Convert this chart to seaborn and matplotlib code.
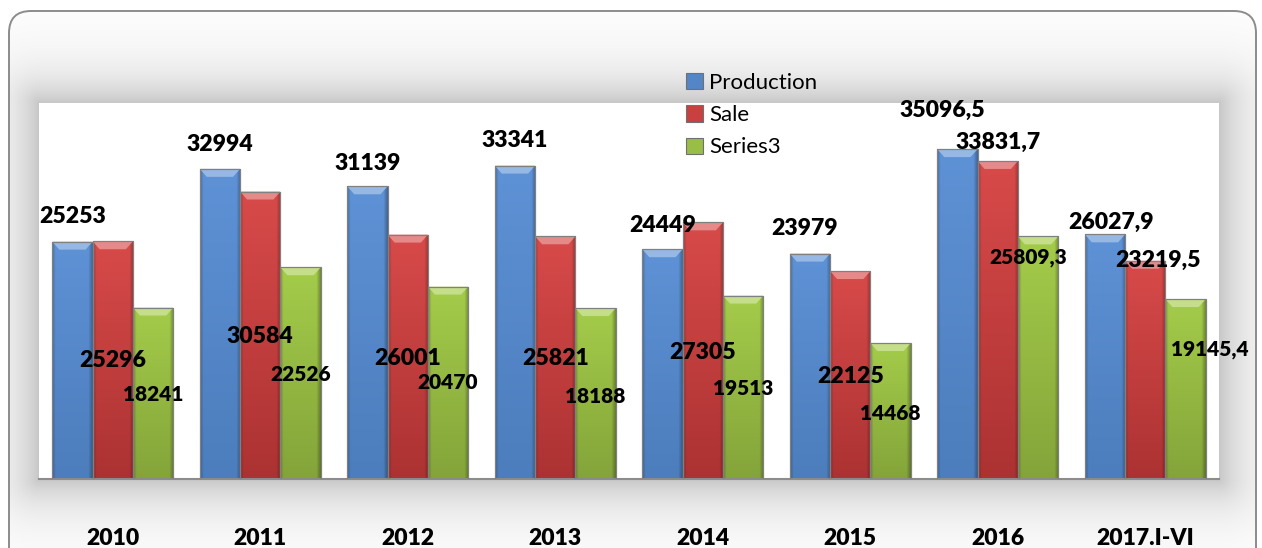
import numpy as np
import pandas as pd
import seaborn as sns
import matplotlib.pyplot as plt
from matplotlib.patches import FancyBboxPatch, Polygon, Rectangle
from matplotlib.colors import to_rgb

# data
years = ["2010", "2011", "2012", "2013", "2014", "2015", "2016", "2017.I-VI"]
production = [25253, 32994, 31139, 33341, 24449, 23979, 35096.5, 26027.9]
sale = [25296, 30584, 26001, 25821, 27305, 22125, 33831.7, 23219.5]
series3 = [18241, 22526, 20470, 18188, 19513, 14468, 25809.3, 19145.4]
series_names = ["Production", "Sale", "Series3"]

# label offsets (pixels from bar top centre), placed by hand in the original
prod_off = [(0, 25), (0, 24), (0, 23), (0, 25), (0, 24), (-5, 25), (-15, 39), (6, 12)]
sale_off = [(0, -119), (0, -145), (0, -124), (0, -122), (0, -130), (0, -105), (0, 19), (13, 0)]
s3_off = [(0, -87), (0, -107), (0, -96), (0, -88), (0, -93), (0, -70), (-10, -21), (24, -50)]

base_colors = ["#5485C6", "#C84040", "#98BE45"]
grad_colors = [("#5E92D6", "#4C7DBC"), ("#D84A4A", "#AC3232"), ("#A4CC4A", "#84A43A")]

plt.rcParams["font.family"] = ["Lato", "DejaVu Sans"]

W, H = 1262, 548
fig = plt.figure(figsize=(W / 100, H / 100), dpi=100)

# --- chart area background: soft shadow round the plot area, rounded frame
px0, px1, py0, py1 = 39, 1219, 103, 479
bg = fig.add_axes([0, 0, 1, 1])
bg.set_xlim(0, W)
bg.set_ylim(H, 0)
bg.axis("off")
yy, xx = np.mgrid[0:H, 0:W] + 0.5
ddx = np.maximum(np.maximum(px0 - xx, xx - px1), 0)
ddy = np.maximum(np.maximum(py0 - yy, yy - py1), 0)
dist = np.hypot(ddx, ddy)
shade = 1 - 0.22 * np.exp(-dist / 30)
shade[dist == 0] = 1
img = np.dstack([shade] * 3)
bg_im = bg.imshow(img, extent=[0, W, H, 0], aspect="auto", interpolation="bilinear")
frame = FancyBboxPatch((9, 11), 1247, 570, boxstyle="round,pad=0,rounding_size=22",
                       fc="none", ec="#8c8c8c", lw=1.4)
bg.add_patch(frame)
bg_im.set_clip_path(frame)

# --- bars
ax = fig.add_axes([px0 / W, 1 - py1 / H, (px1 - px0) / W, (py1 - py0) / H])
ax.set_facecolor("none")

df = pd.DataFrame({
    "year": years * 3,
    "series": [s for s in series_names for _ in years],
    "value": production + sale + series3,
})
sns.barplot(data=df, x="year", y="value", hue="series", hue_order=series_names,
            palette=base_colors, width=0.82, saturation=1, edgecolor="#808080",
            linewidth=0.9, legend=False, ax=ax)

ax.set_xlim(-0.5, 7.5)
ax.set_ylim(0, 40000)
dw = 7 / 147.5
dh = 8 * 40000 / 376

nx, ny = 40, 100
xs = np.linspace(0, 1, nx)
edge = 1 - (np.clip(1 - xs / 0.08, 0, 1) * 0.22 + np.clip(1 - (1 - xs) / 0.1, 0, 1) * 0.3)
t = np.linspace(1, 0, ny)

for k, cont in enumerate(ax.containers):
    top_c = np.array(to_rgb(grad_colors[k][0]))
    bot_c = np.array(to_rgb(grad_colors[k][1]))
    col = bot_c[None, :] + (top_c - bot_c)[None, :] * t[:, None]
    bar_img = np.clip(col[:, None, :] * edge[None, :, None], 0, 1)
    cap_c = top_c + (1 - top_c) * 0.35
    for p in cont.patches:
        x, w, h = p.get_x(), p.get_width(), p.get_height()
        im = ax.imshow(bar_img, extent=[x, x + w, 0, h], aspect="auto",
                       origin="upper", interpolation="bilinear", zorder=2.5)
        im.set_clip_path(p)
        ax.add_patch(Polygon([(x, h), (x + w, h), (x + w - dw, h - dh), (x + dw, h - dh)],
                             closed=True, fc=cap_c, ec="none", zorder=2.7))
        p.set_facecolor("none")
        p.set_zorder(3)

ax.set_xlim(-0.5, 7.5)
ax.set_ylim(0, 40000)


def fmt(v):
    if float(v).is_integer():
        return str(int(v))
    return f"{v:.1f}".replace(".", ",")


for k, (vals, offs) in enumerate(zip([production, sale, series3], [prod_off, sale_off, s3_off])):
    size = 15 if k == 2 else 16.6
    for p, v, (ox, oy) in zip(ax.containers[k].patches, vals, offs):
        cx = p.get_x() + p.get_width() / 2
        ax.annotate(fmt(v), (cx, p.get_height()), xytext=(ox * 0.72, oy * 0.72),
                    textcoords="offset points", ha="center", va="center",
                    fontsize=size, fontweight="heavy", color="black",
                    annotation_clip=False, zorder=5)

ax.set_yticks([])
ax.set_xlabel("")
ax.set_ylabel("")
for s in ["left", "right", "top"]:
    ax.spines[s].set_visible(False)
ax.spines["bottom"].set_color("#8c8c8c")
ax.spines["bottom"].set_linewidth(1.5)
ax.tick_params(axis="x", length=0, pad=35)
for lab in ax.get_xticklabels():
    lab.set_fontsize(16.5)
    lab.set_fontweight("heavy")

handles = [Rectangle((0, 0), 1, 1, fc=c, ec="#707070", lw=0.8) for c in base_colors]
fig.legend(handles, series_names, loc="upper left", bbox_to_anchor=(686 / W, 1 - 73 / H),
           frameon=False, fontsize=16, handlelength=0.75, handleheight=0.75,
           handletextpad=0.3, labelspacing=0.55, borderpad=0, borderaxespad=0)

fig.savefig("out.png", dpi=100)
